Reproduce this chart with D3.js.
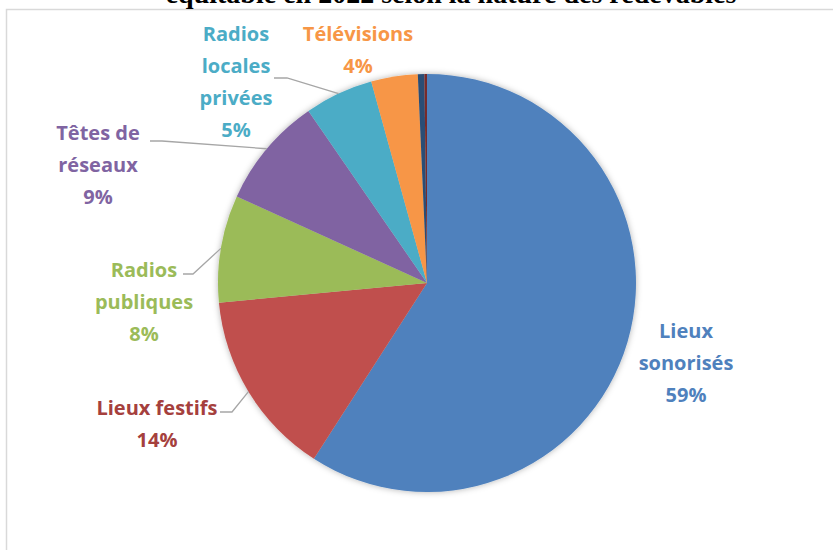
<!DOCTYPE html>
<html>
<head>
<meta charset="utf-8">
<script src="https://cdn.jsdelivr.net/npm/d3@7"></script>
<style>
  body { margin: 0; background: #fff; }
  svg { display: block; }
</style>
</head>
<body>
<div id="vis"></div>
<script>
// data (share of total, %)
const CATEGORIES = ["Lieux sonorisés", "Lieux festifs", "Radios publiques", "Têtes de réseaux",
                    "Radios locales privées", "Télévisions", "Autres 1", "Autres 2"];
const VALUES = [59.1, 14.4, 8.3, 8.6, 5.3, 3.6, 0.5, 0.2];
const TITLE = "équitable en 2022 selon la nature des redevables";

// constants for the frame
const FRAME_WIDTH = 833;
const FRAME_HEIGHT = 550;
const CENTER = {x: 427, y: 283};
const RADIUS = 209;

const SLICE_COLORS = ["#4F81BD", "#C0504D", "#9BBB59", "#8064A2", "#4BACC6", "#F79646", "#2C4D75", "#772C2A"];
const LABEL_COLORS = ["#4F81BD", "#A5403D", "#9BBB59", "#8064A2", "#4BACC6", "#F79646"];

// label placement (center x, first baseline) and leader line start, by slice index
const LABELS = [
  {lines: ["Lieux", "sonorisés"], x: 686, y: 338},
  {lines: ["Lieux festifs"], x: 157, y: 415, lead: [[220, 412], [232, 412]]},
  {lines: ["Radios", "publiques"], x: 144, y: 277, lead: [[183, 274], [193, 274]]},
  {lines: ["Têtes de", "réseaux"], x: 98, y: 140, lead: [[150, 141], [162, 141]]},
  {lines: ["Radios", "locales", "privées"], x: 236, y: 41, lead: [[274, 78], [287, 78]]},
  {lines: ["Télévisions"], x: 358, y: 41}
];
const LINE_HEIGHT = 32;

const FRAME = d3.select("#vis")
  .append("svg")
  .attr("width", FRAME_WIDTH)
  .attr("height", FRAME_HEIGHT);

// soft shadow around the pie
const defs = FRAME.append("defs");
defs.append("filter")
  .attr("id", "shadow")
  .attr("x", "-20%").attr("y", "-20%").attr("width", "140%").attr("height", "140%")
  .append("feDropShadow")
  .attr("dx", 0).attr("dy", 0)
  .attr("stdDeviation", 3)
  .attr("flood-color", "#000")
  .attr("flood-opacity", 0.3);

// chart border (only top and left visible)
FRAME.append("path")
  .attr("d", "M6.5," + FRAME_HEIGHT + "V9.5H" + FRAME_WIDTH)
  .attr("fill", "none")
  .attr("stroke", "#D9D9D9")
  .attr("stroke-width", 1.5);

// title, cut by the top edge
FRAME.append("text")
  .attr("x", 451)
  .attr("y", 3)
  .attr("text-anchor", "middle")
  .attr("font-family", "'Liberation Serif', 'Times New Roman', serif")
  .attr("font-weight", "bold")
  .attr("font-size", "28px")
  .attr("fill", "#000")
  .text(TITLE);

const PIE = d3.pie().sort(null).value((d) => d);
const ARCS = PIE(VALUES);
const ARC = d3.arc().innerRadius(0).outerRadius(RADIUS);

const G = FRAME.append("g")
  .attr("transform", "translate(" + CENTER.x + "," + CENTER.y + ")");

G.append("g")
  .attr("filter", "url(#shadow)")
  .selectAll("path")
  .data(ARCS)
  .enter()
  .append("path")
  .attr("d", ARC)
  .attr("fill", (d, i) => SLICE_COLORS[i]);

// leader lines from label to the middle of the slice edge
const fmt = (v) => Math.round(v) + "%";
LABELS.forEach((lab, i) => {
  if (lab.lead) {
    const a = (ARCS[i].startAngle + ARCS[i].endAngle) / 2;
    const end = [CENTER.x + RADIUS * Math.sin(a), CENTER.y - RADIUS * Math.cos(a)];
    const pts = lab.lead.concat([end]);
    FRAME.append("path")
      .attr("d", d3.line()(pts))
      .attr("fill", "none")
      .attr("stroke", "#A6A6A6")
      .attr("stroke-width", 1.3);
  }
  const t = FRAME.append("text")
    .attr("text-anchor", "middle")
    .attr("font-family", "'Open Sans', sans-serif")
    .attr("font-weight", "bold")
    .attr("font-size", "20px")
    .attr("fill", LABEL_COLORS[i]);
  lab.lines.concat([fmt(VALUES[i])]).forEach((s, k) => {
    t.append("tspan")
      .attr("x", lab.x)
      .attr("y", lab.y + k * LINE_HEIGHT)
      .text(s);
  });
});
</script>
</body>
</html>
